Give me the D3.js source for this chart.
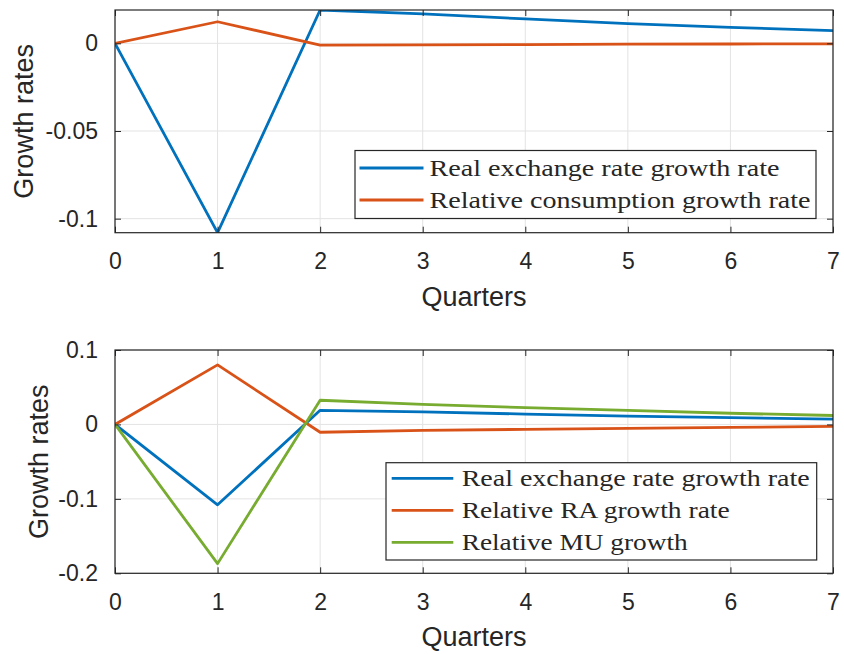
<!DOCTYPE html>
<html>
<head>
<meta charset="utf-8">
<script src="https://cdn.jsdelivr.net/npm/d3@7"></script>
<style>
  html, body { margin: 0; padding: 0; background: #ffffff; }
  svg { display: block; }
</style>
</head>
<body>
<svg id="chart" width="844" height="654"></svg>
<script>
// Impulse responses over eight quarters
const quarters = [0, 1, 2, 3, 4, 5, 6, 7];

// Upper panel
const rerGrowth = [0, -0.108, 0.019, 0.0168, 0.0139, 0.0112, 0.0091, 0.0072];
const relConsGrowth = [0, 0.0123, -0.0010, -0.0009, -0.0007, -0.0005, -0.0004, -0.0003];

// Lower panel
const rerGrowthB = [0, -0.108, 0.019, 0.0168, 0.0139, 0.0112, 0.0091, 0.0072];
const relRAGrowth = [0, 0.080, -0.0105, -0.0080, -0.0066, -0.0053, -0.0040, -0.0026];
const relMUGrowth = [0, -0.187, 0.0325, 0.0270, 0.0225, 0.0188, 0.0150, 0.0120];

const xTicks = [0, 1, 2, 3, 4, 5, 6, 7];
const yTicksTop = [0, -0.05, -0.1];
const yTickLabelsTop = ["0", "-0.05", "-0.1"];
const yTicksBottom = [0.1, 0, -0.1, -0.2];
const yTickLabelsBottom = ["0.1", "0", "-0.1", "-0.2"];

const namesTop = ["Real exchange rate growth rate", "Relative consumption growth rate"];
const namesBottom = ["Real exchange rate growth rate", "Relative RA growth rate", "Relative MU growth"];

const xLabel = "Quarters";
const yLabel = "Growth rates";

const colors = ["#0072BD", "#D95319", "#77AC30"];
const axisColor = "#262626";
const gridColor = "#e3e3e3";
const tickFont = "'Liberation Sans', Arial, sans-serif";
const legendFont = "'Liberation Serif', 'Times New Roman', serif";

const svg = d3.select("#chart");

function panel(opts) {
  const { left, right, top, bottom, yDomain, yTicks, yTickLabels, series, names,
          legend, yLabelX, id } = opts;

  const x = d3.scaleLinear().domain([0, 7]).range([left, right]);
  const y = d3.scaleLinear().domain(yDomain).range([bottom, top]);

  const g = svg.append("g");

  // grid
  g.append("g").selectAll("line.gx").data(xTicks).join("line")
    .attr("x1", d => x(d)).attr("x2", d => x(d))
    .attr("y1", top).attr("y2", bottom)
    .attr("stroke", gridColor).attr("stroke-width", 1);
  g.append("g").selectAll("line.gy").data(yTicks).join("line")
    .attr("x1", left).attr("x2", right)
    .attr("y1", d => y(d)).attr("y2", d => y(d))
    .attr("stroke", gridColor).attr("stroke-width", 1);

  // clip region for the data lines
  svg.append("defs").append("clipPath").attr("id", id)
    .append("rect").attr("x", left).attr("y", top)
    .attr("width", right - left).attr("height", bottom - top);

  const line = d3.line().x((d, i) => x(quarters[i])).y(d => y(d));
  g.append("g").attr("clip-path", `url(#${id})`)
    .selectAll("path").data(series).join("path")
    .attr("d", d => line(d))
    .attr("fill", "none")
    .attr("stroke", (d, i) => colors[i])
    .attr("stroke-width", 2.8)
    .attr("stroke-linejoin", "round");

  // axes via d3 axis generators, ticks inward on all four sides
  const tl = 6;
  const xb = g.append("g").attr("transform", `translate(0,${bottom})`)
    .call(d3.axisBottom(x).tickValues(xTicks).tickSize(-tl).tickPadding(tl + 14).tickFormat(d3.format("d")));
  const xt = g.append("g").attr("transform", `translate(0,${top})`)
    .call(d3.axisTop(x).tickValues(xTicks).tickSize(-tl).tickFormat(""));
  const yl = g.append("g").attr("transform", `translate(${left},0)`)
    .call(d3.axisLeft(y).tickValues(yTicks).tickSize(-tl).tickPadding(tl + 11)
      .tickFormat((d, i) => yTickLabels[i]));
  const yr = g.append("g").attr("transform", `translate(${right},0)`)
    .call(d3.axisRight(y).tickValues(yTicks).tickSize(-tl).tickFormat(""));

  [xb, xt, yl, yr].forEach(a => {
    a.select(".domain").remove();
    a.selectAll(".tick line").attr("stroke", axisColor).attr("stroke-width", 1);
    a.selectAll(".tick text").attr("fill", axisColor)
      .style("font-family", tickFont).style("font-size", "23px");
  });
  xb.selectAll(".tick text").attr("dy", "0.71em");
  // box
  g.append("rect").attr("x", left).attr("y", top)
    .attr("width", right - left).attr("height", bottom - top)
    .attr("fill", "none").attr("stroke", axisColor).attr("stroke-width", 1.2);

  // axis labels
  g.append("text").attr("x", (left + right) / 2).attr("y", bottom + 73)
    .attr("text-anchor", "middle").attr("fill", axisColor)
    .style("font-family", tickFont).style("font-size", "27px").text(xLabel);
  g.append("text")
    .attr("transform", `translate(${yLabelX},${(top + bottom) / 2}) rotate(-90)`)
    .attr("text-anchor", "middle").attr("fill", axisColor)
    .style("font-family", tickFont).style("font-size", "27px").text(yLabel);

  // legend
  const lg = g.append("g");
  lg.append("rect").attr("x", legend.x).attr("y", legend.y)
    .attr("width", legend.w).attr("height", legend.h)
    .attr("fill", "#ffffff").attr("stroke", axisColor).attr("stroke-width", 1.2);
  names.forEach((n, i) => {
    const cy = legend.y + legend.first + i * 32;
    lg.append("line").attr("x1", legend.x + legend.s0).attr("x2", legend.x + legend.s1)
      .attr("y1", cy).attr("y2", cy)
      .attr("stroke", colors[i]).attr("stroke-width", 2.8);
    lg.append("text").attr("x", legend.x + legend.t0).attr("y", cy)
      .attr("dy", "0.33em").attr("fill", "#262626")
      .attr("textLength", legend.widths[i]).attr("lengthAdjust", "spacingAndGlyphs")
      .style("font-family", legendFont).style("font-size", "24px").text(n);
  });
}

panel({
  id: "clipTop",
  left: 115, right: 833, top: 10, bottom: 232.7,
  yDomain: d3.extent(rerGrowth.concat(relConsGrowth)),
  yTicks: yTicksTop, yTickLabels: yTickLabelsTop,
  series: [rerGrowth, relConsGrowth], names: namesTop,
  yLabelX: 33,
  legend: { x: 355, y: 150.5, w: 461, h: 68, first: 17.5, s0: 4.5, s1: 68.5, t0: 74.5, widths: [350, 381] }
});

panel({
  id: "clipBottom",
  left: 115, right: 833, top: 350, bottom: 573.3,
  yDomain: [-0.2, 0.1],
  yTicks: yTicksBottom, yTickLabels: yTickLabelsBottom,
  series: [rerGrowthB, relRAGrowth, relMUGrowth], names: namesBottom,
  yLabelX: 48,
  legend: { x: 386, y: 462.7, w: 430.7, h: 97.3, first: 15.6, s0: 5.7, s1: 67.3, t0: 75.7, widths: [348, 268, 226] }
});
</script>
</body>
</html>
